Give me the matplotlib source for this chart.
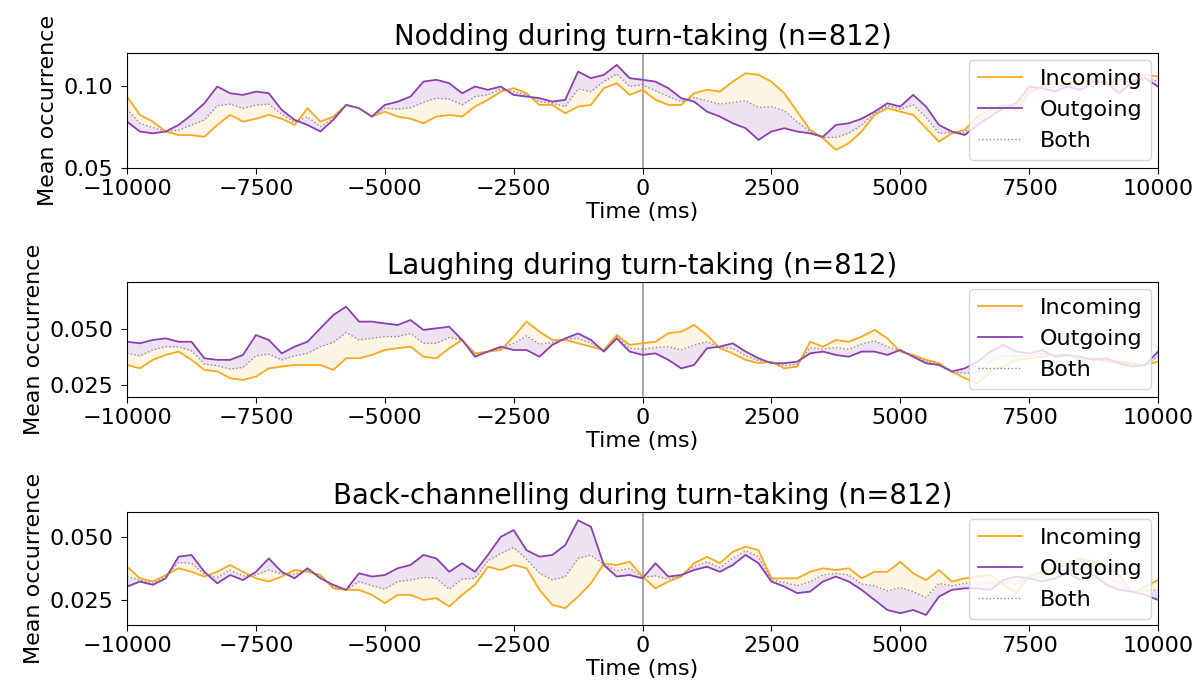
import matplotlib
matplotlib.use("Agg")
import matplotlib.pyplot as plt
import numpy as np

# time axis, one value every 250 ms
time_ms = np.arange(-10000, 10001, 250)

# nodding
nod_in = [0.0935, 0.0823, 0.0782, 0.0722, 0.070, 0.070, 0.069, 0.0762, 0.0823, 0.0782,
          0.080, 0.0823, 0.080, 0.0762, 0.0864, 0.0782, 0.0813, 0.0884, 0.0864, 0.0813,
          0.0843, 0.0813, 0.080, 0.0772, 0.0813, 0.0823, 0.0813, 0.0874, 0.0915, 0.0965,
          0.0986, 0.0955, 0.0884, 0.0884, 0.0833, 0.0874, 0.0884, 0.0986, 0.1016, 0.0945,
          0.0976, 0.0915, 0.0884, 0.0884, 0.0955, 0.0976, 0.0965, 0.1026, 0.1077, 0.1067,
          0.1026, 0.0955, 0.0843, 0.0732, 0.0681, 0.061, 0.065, 0.0722, 0.0823, 0.0864,
          0.0843, 0.0823, 0.0742, 0.066, 0.0711, 0.0732, 0.0813, 0.0854, 0.0884, 0.0854,
          0.0955, 0.0996, 0.1016, 0.1026, 0.1026, 0.1037, 0.1016, 0.1037, 0.1057, 0.1067, 0.1057]
nod_out = [0.0782, 0.0722, 0.0711, 0.0722, 0.0762, 0.0823, 0.0894, 0.0996, 0.0955, 0.0945,
           0.0965, 0.0955, 0.0854, 0.0793, 0.0762, 0.0722, 0.0793, 0.0884, 0.0864, 0.0813,
           0.0884, 0.0904, 0.0935, 0.1026, 0.1037, 0.1016, 0.0955, 0.0996, 0.0976, 0.0996,
           0.0945, 0.0935, 0.0925, 0.0904, 0.0915, 0.1087, 0.1047, 0.1067, 0.1128, 0.1047,
           0.1037, 0.1026, 0.0986, 0.0925, 0.0904, 0.0843, 0.0813, 0.0772, 0.0742, 0.0671,
           0.0722, 0.0742, 0.0722, 0.0711, 0.069, 0.0762, 0.0772, 0.080, 0.0843, 0.0894,
           0.0874, 0.0945, 0.0874, 0.0762, 0.0722, 0.0701, 0.0762, 0.0813, 0.0864, 0.0894,
           0.0996, 0.0986, 0.0965, 0.0996, 0.0976, 0.1026, 0.1016, 0.0955, 0.1026, 0.1047, 0.0996]

# laughing
laugh_in = [0.0339, 0.0324, 0.0362, 0.0384, 0.0399, 0.0362, 0.0317, 0.031, 0.028, 0.0272,
            0.0287, 0.0324, 0.0332, 0.0339, 0.0339, 0.0339, 0.0317, 0.0369, 0.0369, 0.0384,
            0.0406, 0.0414, 0.0421, 0.0376, 0.0369, 0.0414, 0.0451, 0.0391, 0.0399, 0.0406,
            0.0466, 0.0533, 0.0488, 0.0451, 0.0451, 0.0436, 0.0421, 0.0406, 0.0473, 0.0429,
            0.0436, 0.0443, 0.0481, 0.0488, 0.0518, 0.0473, 0.0414, 0.0391, 0.0362, 0.0347,
            0.0354, 0.0324, 0.0332, 0.0443, 0.0421, 0.0451, 0.0443, 0.0466, 0.0496, 0.0458,
            0.0399, 0.0384, 0.0362, 0.0347, 0.031, 0.028, 0.0257, 0.031, 0.0332, 0.0362,
            0.0369, 0.0376, 0.0384, 0.0384, 0.0362, 0.0369, 0.0354, 0.0354, 0.0347, 0.0339, 0.0354]
laugh_out = [0.0443, 0.0436, 0.0451, 0.0458, 0.0443, 0.0443, 0.0369, 0.0362, 0.0362, 0.0384,
             0.0473, 0.0451, 0.0391, 0.0421, 0.0443, 0.0503, 0.0562, 0.060, 0.0533, 0.0533,
             0.0525, 0.0518, 0.054, 0.0496, 0.0503, 0.051, 0.0451, 0.0376, 0.0399, 0.0421,
             0.0406, 0.0406, 0.0376, 0.0429, 0.0458, 0.048, 0.0451, 0.0399, 0.0458, 0.0399,
             0.0384, 0.0391, 0.0362, 0.0324, 0.0339, 0.0414, 0.0421, 0.0436, 0.0399, 0.0369,
             0.0347, 0.0347, 0.0354, 0.0391, 0.0399, 0.0384, 0.0376, 0.0399, 0.0399, 0.0384,
             0.0406, 0.0376, 0.0347, 0.0339, 0.031, 0.0324, 0.0354, 0.0399, 0.0429, 0.0399,
             0.0391, 0.0406, 0.0376, 0.0384, 0.0376, 0.0362, 0.0369, 0.0347, 0.0332, 0.0339, 0.0399]

# back-channelling
bc_in = [0.0382, 0.0336, 0.0323, 0.0349, 0.0376, 0.0362, 0.0343, 0.0362, 0.0389, 0.0362,
         0.0336, 0.0323, 0.0343, 0.0369, 0.0362, 0.0349, 0.0296, 0.029, 0.029, 0.027,
         0.0237, 0.027, 0.027, 0.025, 0.0257, 0.0224, 0.027, 0.031, 0.0382, 0.0369,
         0.0389, 0.0376, 0.029, 0.023, 0.0217, 0.0263, 0.0316, 0.0395, 0.0389, 0.0402,
         0.0343, 0.0296, 0.0323, 0.0343, 0.0396, 0.0422, 0.0396, 0.0442, 0.0462, 0.0448,
         0.0336, 0.0336, 0.0336, 0.0362, 0.0376, 0.0369, 0.0376, 0.0336, 0.0362, 0.0362,
         0.0402, 0.0356, 0.0329, 0.0369, 0.0323, 0.0336, 0.0343, 0.0349, 0.031, 0.0277,
         0.0343, 0.0362, 0.0376, 0.0396, 0.0415, 0.0402, 0.0376, 0.0349, 0.0277, 0.0303, 0.0329]
bc_out = [0.0303, 0.0323, 0.031, 0.0336, 0.0422, 0.0429, 0.0362, 0.0316, 0.0349, 0.0329,
          0.0362, 0.0415, 0.0362, 0.0336, 0.0376, 0.0336, 0.031, 0.029, 0.0356, 0.0343,
          0.0349, 0.0376, 0.0389, 0.0429, 0.0415, 0.0362, 0.0396, 0.0362, 0.0429, 0.0501,
          0.0528, 0.0448, 0.0422, 0.0429, 0.0468, 0.0567, 0.0541, 0.0389, 0.0343, 0.0349,
          0.0336, 0.0396, 0.0343, 0.0349, 0.0369, 0.0382, 0.0362, 0.0389, 0.0429, 0.0396,
          0.0323, 0.0303, 0.0277, 0.0283, 0.0323, 0.0343, 0.0323, 0.029, 0.025, 0.021,
          0.0197, 0.021, 0.019, 0.0263, 0.029, 0.0296, 0.0296, 0.029, 0.0329, 0.0343,
          0.0336, 0.0323, 0.0336, 0.0356, 0.0329, 0.0349, 0.031, 0.029, 0.0283, 0.027, 0.025]

titles = ["Nodding during turn-taking (n=812)",
          "Laughing during turn-taking (n=812)",
          "Back-channelling during turn-taking (n=812)"]
ylims = [(0.05, 0.12), (0.0196, 0.071), (0.015, 0.060)]
yticks = [[0.05, 0.10], [0.025, 0.050], [0.025, 0.050]]
yfmt = ["{:.2f}", "{:.3f}", "{:.3f}"]

inc_color = "#fba91e"
out_color = "#8c3fae"

plt.rcParams["font.size"] = 16
plt.rcParams["xtick.major.size"] = 4.5
plt.rcParams["ytick.major.size"] = 4.5
plt.rcParams["ytick.major.pad"] = 5.5

fig = plt.figure(figsize=(12.03, 6.95), dpi=100)
# axes boxes (left, bottom, width, height)
boxes = [[0.1056, 0.7583, 0.857, 0.1654],
         [0.1056, 0.4288, 0.857, 0.1654],
         [0.1056, 0.1007, 0.857, 0.1626]]

series = [(nod_in, nod_out), (laugh_in, laugh_out), (bc_in, bc_out)]

for i, (inc, out) in enumerate(series):
    ax = fig.add_axes(boxes[i])
    inc = np.array(inc)
    out = np.array(out)
    both = (inc + out) / 2

    ax.axvline(0, color="gray", lw=1.2, alpha=0.8)
    ax.fill_between(time_ms, both, inc, color=inc_color, alpha=0.12, lw=0)
    ax.fill_between(time_ms, both, out, color=out_color, alpha=0.15, lw=0)
    ax.plot(time_ms, inc, color=inc_color, lw=1.3, label="Incoming")
    ax.plot(time_ms, out, color=out_color, lw=1.3, label="Outgoing")
    ax.plot(time_ms, both, color="gray", lw=1.0, ls=":", alpha=0.9, label="Both")

    ax.set_xlim(-10000, 10000)
    ax.set_xticks(np.arange(-10000, 10001, 2500))
    ax.set_ylim(*ylims[i])
    ax.set_yticks(yticks[i])
    ax.set_yticklabels([yfmt[i].format(v) for v in yticks[i]])
    ax.set_title(titles[i], fontsize=19.8)
    ax.set_xlabel("Time (ms)", labelpad=2)
    ax.set_ylabel("Mean occurrence")
    ax.legend(loc="upper right", borderaxespad=0.3)

fig.savefig("out.png", dpi=100)
